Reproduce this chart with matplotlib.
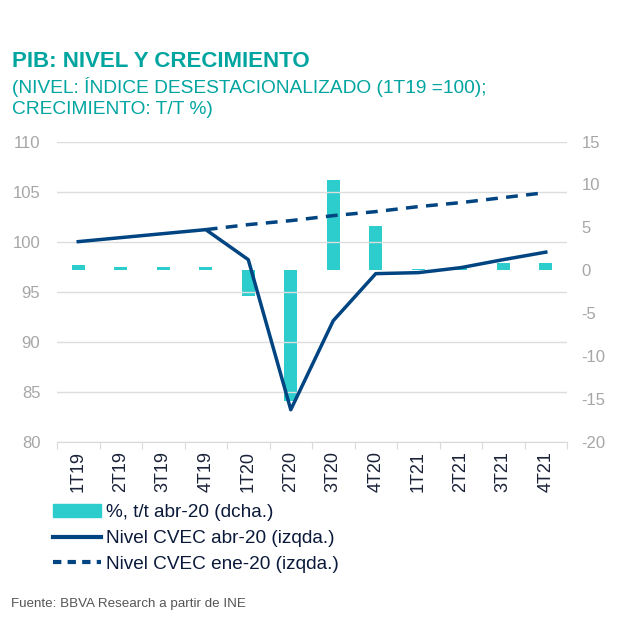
import numpy as np
import matplotlib
matplotlib.use('Agg')
import matplotlib.pyplot as plt
from matplotlib.lines import Line2D
from matplotlib.patches import Patch

plt.rcParams['font.family'] = ['Liberation Sans', 'DejaVu Sans']

# datos
trimestres = ['1T19', '2T19', '3T19', '4T19', '1T20', '2T20',
              '3T20', '4T20', '1T21', '2T21', '3T21', '4T21']
crec_abr20 = [0.6, 0.4, 0.4, 0.4, -3.0, -15.2, 10.5, 5.1, 0.15, 0.4, 0.85, 0.85]
nivel_abr20 = [100.0, 100.4, 100.8, 101.2, 98.2, 83.2, 92.1, 96.8, 96.9, 97.4, 98.2, 98.95]
nivel_ene20 = [None, None, None, 101.2, 101.7, 102.1, 102.6, 103.0, 103.5, 103.9, 104.4, 104.9]
ticks_izq = [80, 85, 90, 95, 100, 105, 110]
ticks_dcha = [-20, -15, -10, -5, 0, 5, 10, 15]

teal = '#00A5A0'
turq = '#2DCCCD'
navy = '#004481'
gris = '#A6A6A6'

fig = plt.figure(figsize=(6.21, 6.21), dpi=100)
ax = fig.add_axes([0.0918, 0.2887, 0.8213, 0.4833])
ax2 = ax.twinx()

x = np.arange(len(trimestres))
ene = np.array([np.nan if v is None else v for v in nivel_ene20])

ax2.bar(x, crec_abr20, width=0.3, color=turq, zorder=2)
ax.plot(x, ene, color=navy, lw=2.5, ls=(0, (3.4, 2.4)), zorder=3)
ax.plot(x, nivel_abr20, color=navy, lw=2.5, zorder=4)

ax.set_zorder(ax2.get_zorder() + 1)
ax.patch.set_visible(False)

ax.set_xlim(-0.5, 11.5)
ax.set_ylim(80, 110)
ax.set_yticks(ticks_izq)
ax.set_yticklabels([str(t) for t in ticks_izq])
ax2.set_ylim(-20, 15)
ax2.set_yticks(ticks_dcha)
ax2.set_yticklabels([str(t) for t in ticks_dcha])

for a in (ax, ax2):
    for s in a.spines.values():
        s.set_visible(False)
    a.tick_params(axis='y', length=0, labelsize=12, labelcolor=gris, pad=12)

ax2.tick_params(axis='y', pad=10.5)
ax.spines['bottom'].set_visible(True)
ax.spines['bottom'].set_color('#D9D9D9')
ax.yaxis.grid(True, color='#DDDDDD', lw=1)
ax.set_axisbelow(True)

ax.set_xticks(np.arange(-0.5, 12, 1))
ax.set_xticklabels([])
ax.tick_params(axis='x', length=5, color='#D9D9D9')
ax.set_xticks(x, minor=True)
ax.set_xticklabels(trimestres, minor=True, rotation=90, fontsize=13, color='#1A2238')
ax.tick_params(axis='x', which='minor', length=0, pad=7)

handles = [Patch(color=turq),
           Line2D([], [], color=navy, lw=3),
           Line2D([], [], color=navy, lw=3, ls=(0, (2, 1.5)))]
labels = ['%, t/t abr-20 (dcha.)', 'Nivel CVEC abr-20 (izqda.)', 'Nivel CVEC ene-20 (izqda.)']
fig.legend(handles, labels, loc='upper left', bbox_to_anchor=(0.058, 0.216),
           frameon=False, fontsize=13.7, handlelength=2.5, handletextpad=0.3,
           labelspacing=0.45, labelcolor='#0B1A3A')

fig.text(0.019, 0.892, 'PIB: NIVEL Y CRECIMIENTO', fontsize=16, fontweight='bold', color=teal)
fig.text(0.019, 0.8497, '(NIVEL: ÍNDICE DESESTACIONALIZADO (1T19 =100);', fontsize=13.8, color=teal)
fig.text(0.019, 0.8164, 'CRECIMIENTO: T/T %)', fontsize=13.8, color=teal)
fig.text(0.017, 0.022, 'Fuente: BBVA Research a partir de INE', fontsize=9.6, color='#555555')

fig.savefig('out.png', dpi=100)
